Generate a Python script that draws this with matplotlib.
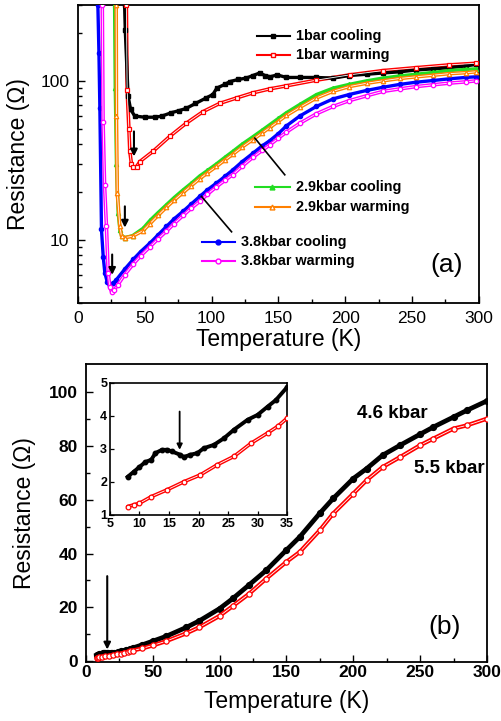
import matplotlib
matplotlib.use("Agg")
import matplotlib.pyplot as plt
from matplotlib.lines import Line2D

plt.rcParams['font.family'] = ['Liberation Sans', 'DejaVu Sans']

# ---------------- Panel (a) data ----------------
T_1bar_cool = [35.0, 35.5, 37.6, 39.5, 42.6, 50, 58, 63, 70, 76, 81, 88, 96, 101, 104, 110, 114, 120, 126,
               131, 136, 140, 144, 149, 156, 166, 178, 191, 203, 216, 228, 241, 253, 266, 278, 290, 298]
R_1bar_cool = [300, 209, 80, 66, 60, 59, 59, 60, 63, 65, 67, 72, 78, 82, 90, 95, 99, 102, 104,
               108, 112, 108, 106, 109, 105, 105, 105, 104, 108, 110, 112, 114, 117, 119, 121, 124, 127]

T_1bar_warm = [36.3, 36.9, 38.2, 38.9, 40.1, 41.4, 43.9, 46.4, 56.3, 68.8, 81, 93.7, 106, 118.7, 131,
               143.6, 156, 178.5, 203.4, 228.3, 253, 278, 298]
R_1bar_warm = [300, 88, 50, 36, 30, 28.5, 28.8, 31, 36, 44.7, 54, 64, 72, 78, 84,
               89, 93, 101, 109, 116, 121, 126, 129]

T_29_cool = [27.5, 28.0, 28.9, 30.2, 31.5, 32.7, 35.4, 41, 48.9, 53.9, 60, 66.3, 72, 78.8, 85, 91.2, 97,
             103.7, 110, 116, 123, 131, 138, 143.6, 150, 156, 166, 178.5, 191, 203, 216, 228, 241, 253,
             266, 278, 290, 298]
R_29_cool = [300, 90, 30, 14.7, 11.5, 10.6, 10.3, 10.6, 11.8, 13.2, 14.8, 16.6, 18.4, 20.6, 22.7, 25.2, 27.3,
             30, 33, 36, 40, 44.5, 49, 53, 58, 63, 71, 82, 90, 95, 100, 104, 107.5, 110,
             113, 116, 118, 119]

T_29_warm = [28.7, 28.9, 29.5, 31.4, 32.7, 35, 41, 48.9, 53.9, 60, 66.3, 72, 78.8, 85, 91.2, 97, 103.7,
             110, 116, 123, 131, 138, 143.6, 150, 156, 166, 178.5, 191, 203, 216, 228, 241, 253, 266,
             278, 290, 298]
R_29_warm = [300, 60, 19.8, 12.2, 10.5, 10.3, 10.5, 11.4, 12.6, 14.2, 16.0, 17.7, 19.8, 21.9, 24.2, 26.3, 28.9,
             31.7, 34.5, 38.3, 42.7, 47, 50.8, 55.5, 60.5, 68, 78, 86, 92, 96.5, 100, 103.5, 106, 108.5,
             111, 112.5, 114]

T_38_cool = [15.0, 15.8, 16.5, 17.7, 19.0, 20.2, 22.0, 23.9, 26.5, 28.9, 35, 41.4, 47, 53.9, 60, 66.3, 72,
             78.8, 85, 91.2, 97, 103.7, 110, 116, 123, 131, 138, 143.6, 150, 156, 166, 178.5, 191, 203,
             216, 228, 241, 253, 266, 278, 290, 298]
R_38_cool = [300, 150, 67, 11.6, 7.8, 6.2, 5.4, 5.1, 5.3, 5.6, 6.5, 7.5, 8.4, 9.5, 10.7, 12.1, 13.5,
             15.1, 16.8, 18.7, 20.6, 22.7, 25, 27.5, 31, 35, 39, 42, 46.5, 52, 60, 69, 77, 82,
             87, 91, 95, 98, 100.5, 103, 105, 106]

T_38_warm = [18.3, 18.9, 20.0, 21.4, 22.7, 24.0, 25.2, 27, 30, 35, 41.4, 47, 53.9, 60, 66.3, 72, 78.8, 85,
             91.2, 97, 103.7, 110, 116, 123, 131, 138, 143.6, 150, 156, 166, 178.5, 191, 203, 216, 228,
             241, 253, 266, 278, 290, 298]
R_38_warm = [300, 55, 22, 12.2, 6.2, 5.0, 4.7, 4.8, 5.2, 6.0, 7.0, 7.9, 9.0, 10.1, 11.3, 12.6, 14.2, 15.8,
             17.4, 19.3, 21.5, 23.6, 25.7, 29, 33, 36.5, 39.5, 43.5, 47.5, 54, 62, 69, 75, 80.5, 85.7,
             89, 92, 94.5, 96.7, 98.5, 100]

labels_a = ['1bar cooling', '1bar warming', '2.9kbar cooling', '2.9kbar warming',
            '3.8kbar cooling', '3.8kbar warming']

# ---------------- Panel (b) data ----------------
T_46 = [8, 9, 10, 11, 12, 12.7, 13.8, 14.7, 15.5, 16.9, 17.5, 18.6, 19.8, 20.9, 22.6, 24.3, 26, 28.3, 30,
        31.7, 33.1, 35, 42, 50, 60, 75, 85, 100, 110, 122, 135, 150, 160, 175, 185, 200, 210, 222, 235,
        250, 260, 275, 285, 300]
R_46 = [2.15, 2.3, 2.45, 2.6, 2.67, 2.87, 2.97, 2.97, 2.92, 2.82, 2.75, 2.82, 2.87, 3.02, 3.12, 3.32, 3.58,
        3.88, 4.03, 4.28, 4.48, 4.87, 6.0, 7.4, 9.2, 12.5, 15.0, 19.5, 23.3, 28.3, 33.8, 41.3, 46.2, 55.0,
        60.5, 67.9, 71.6, 76.6, 80.3, 84.4, 87.1, 90.8, 93.3, 96.8]

T_55 = [8, 9, 10, 12, 14.7, 17.5, 20.3, 23.2, 26, 28.9, 31.7, 33.4, 35, 42, 50, 60, 75, 85, 100, 110, 122,
        135, 150, 160, 175, 185, 200, 210, 222, 235, 250, 260, 275, 285, 300]
R_55 = [1.25, 1.3, 1.35, 1.55, 1.76, 2.0, 2.21, 2.52, 2.77, 3.17, 3.48, 3.68, 3.93, 4.7, 5.8, 7.4, 10.3,
        12.6, 16.8, 20.5, 25.0, 30.7, 36.9, 40.6, 48.7, 54.9, 62.3, 67.3, 72.2, 75.9, 80.3, 82.8, 86.5,
        87.7, 90.2]

# ---------------- Figure ----------------
fig = plt.figure(figsize=(5.02, 7.21), dpi=100)
axa = fig.add_axes([0.155, 0.580, 0.799, 0.413])
axb = fig.add_axes([0.171, 0.082, 0.799, 0.413])
axi = fig.add_axes([0.219, 0.286, 0.353, 0.183])

GREEN = '#22dd22'
ORANGE = '#ff8000'
BLUE = '#0000ff'
MAG = '#ff00ff'
RED = '#ff0000'

def filled(ax, T, R, c, m, ms=3.0, lw=2.4):
    ax.plot(T, R, color=c, lw=lw, marker=m, ms=ms, mfc=c, mec=c, zorder=3)

def hollow(ax, T, R, c, m, ms=3.2, lw=2.6):
    ax.plot(T, R, color=c, lw=lw, zorder=3, solid_capstyle='round')
    ax.plot(T, R, color='white', lw=0.6, zorder=3.1)
    ax.plot(T, R, ls='none', marker=m, ms=ms, mfc='white', mec=c, mew=0.9, zorder=3.2)

hollow(axa, T_1bar_warm, R_1bar_warm, RED, 's')
filled(axa, T_1bar_cool, R_1bar_cool, 'black', 's', ms=2.3, lw=2.4)
filled(axa, T_29_cool, R_29_cool, GREEN, '^')
hollow(axa, T_29_warm, R_29_warm, ORANGE, '^')
filled(axa, T_38_cool, R_38_cool, BLUE, 'o')
hollow(axa, T_38_warm, R_38_warm, MAG, 'o')

axa.set_yscale('log')
axa.set_xlim(0, 300)
axa.set_ylim(4, 300)
axa.set_xticks([0, 50, 100, 150, 200, 250, 300])
axa.set_xticks([25, 75, 125, 175, 225, 275], minor=True)
axa.set_yticks([10, 100])
axa.set_yticklabels(['10', '100'])
axa.yaxis.set_minor_formatter(matplotlib.ticker.NullFormatter())

# legend-like labels for (a)
leg = [
    (0.446, 0.529, 0.897, 'black', 's', 'filled', labels_a[0]),
    (0.446, 0.529, 0.832, RED, 's', 'hollow', labels_a[1]),
    (0.441, 0.529, 0.388, GREEN, '^', 'filled', labels_a[2]),
    (0.441, 0.529, 0.323, ORANGE, '^', 'hollow', labels_a[3]),
    (0.309, 0.392, 0.204, BLUE, 'o', 'filled', labels_a[4]),
    (0.309, 0.392, 0.139, MAG, 'o', 'hollow', labels_a[5]),
]
for x0, x1, y, c, m, kind, lab in leg:
    axa.add_line(Line2D([x0, x1], [y, y], transform=axa.transAxes, color=c, lw=1.5, zorder=4))
    mfc = c if kind == 'filled' else 'white'
    axa.add_line(Line2D([(x0 + x1) / 2], [y], transform=axa.transAxes, ls='none', marker=m, ms=3.5,
                        mfc=mfc, mec=c, mew=1, zorder=5))
    axa.text(x1 + 0.014, y, lab, transform=axa.transAxes, fontsize=10.4, fontweight='bold',
             va='center', ha='left')

# pointer lines
axa.plot([132.4, 154.8], [43.6, 25.6], color='black', lw=1.2, zorder=4)
axa.plot([92.5, 115], [18.7, 11.2], color='black', lw=1.2, zorder=4)

arrow_kw = dict(arrowstyle='-|>', color='black', lw=1.5, mutation_scale=10, shrinkA=0, shrinkB=0)
axa.annotate('', xy=(42, 33.4), xytext=(42, 48), arrowprops=arrow_kw, zorder=6)
axa.annotate('', xy=(35.2, 11.9), xytext=(35.2, 16.2), arrowprops=arrow_kw, zorder=6)
axa.annotate('', xy=(25.7, 6.0), xytext=(25.7, 8.06), arrowprops=arrow_kw, zorder=6)

axa.text(0.92, 0.128, '(a)', transform=axa.transAxes, fontsize=19, ha='center', va='center')
axa.set_xlabel('Temperature (K)', fontsize=16.5)
axa.set_ylabel('Resistance (\u03a9)', fontsize=16.5)
axa.yaxis.set_label_coords(-0.118, 0.5)
axa.xaxis.set_label_coords(0.5, -0.085)

# ---------------- Panel (b) ----------------
axb.plot(T_46, R_46, color='black', lw=3.4, marker='o', ms=4.2, mfc='black', mec='black', zorder=3)
hollow(axb, T_55, R_55, RED, 'o', ms=3.8, lw=3.0)
axb.set_xlim(0, 300)
axb.set_ylim(-0.3, 110.5)
axb.set_xticks([0, 50, 100, 150, 200, 250, 300])
axb.set_xticks([25, 75, 125, 175, 225, 275], minor=True)
axb.set_yticks([0, 20, 40, 60, 80, 100])
axb.set_yticks([10, 30, 50, 70, 90], minor=True)
axb.text(229, 92.2, '4.6 kbar', fontsize=13.5, fontweight='bold', ha='center', va='center')
axb.text(272, 71.7, '5.5 kbar', fontsize=13.5, fontweight='bold', ha='center', va='center')
axb.annotate('', xy=(16, 4.3), xytext=(16, 31.6), arrowprops=arrow_kw, zorder=6)
axb.text(0.895, 0.118, '(b)', transform=axb.transAxes, fontsize=19, ha='center', va='center')
axb.set_xlabel('Temperature (K)', fontsize=16.5)
axb.set_ylabel('Resistance (\u03a9)', fontsize=16.5)
axb.yaxis.set_label_coords(-0.125, 0.5)
axb.xaxis.set_label_coords(0.5, -0.095)

# ---------------- Inset ----------------
axi.plot(T_46, R_46, color='black', lw=2.8, marker='o', ms=3.2, mfc='black', mec='black', zorder=3)
hollow(axi, T_55, R_55, RED, 'o', ms=3.4, lw=2.6)
axi.set_xlim(5, 35)
axi.set_ylim(1, 5)
axi.set_xticks([5, 10, 15, 20, 25, 30, 35])
axi.set_yticks([1, 2, 3, 4, 5])
axi.annotate('', xy=(16.8, 2.97), xytext=(16.8, 4.13),
             arrowprops=dict(arrowstyle='-|>', color='black', lw=1.3, mutation_scale=8, shrinkA=0, shrinkB=0),
             zorder=6)

for ax in (axa, axb):
    for s in ax.spines.values():
        s.set_linewidth(1.3)
    ax.tick_params(which='both', direction='in', top=False, right=False, width=1.0)
    ax.tick_params(which='major', length=5, labelsize=12.5, pad=6)
    ax.tick_params(which='minor', length=3)

axb.tick_params(axis='x', which='major', pad=2)
for lab in axb.get_xticklabels() + axb.get_yticklabels():
    lab.set_fontweight('bold')

for s in axi.spines.values():
    s.set_linewidth(1.2)
axi.tick_params(which='both', direction='in', top=False, right=False, width=0.9, length=3,
                labelsize=9, pad=2)
for lab in axi.get_xticklabels() + axi.get_yticklabels():
    lab.set_fontweight('bold')

fig.savefig('out.png', dpi=100)
